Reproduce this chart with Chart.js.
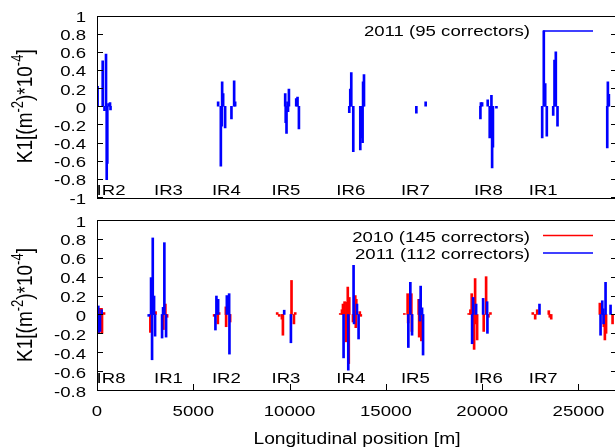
<!DOCTYPE html>
<html>
<head>
<meta charset="utf-8">
<script src="https://cdn.jsdelivr.net/npm/chart.js@4/dist/chart.umd.min.js"></script>
<style>
html, body { margin: 0; padding: 0; background: #fff; overflow: hidden; }
canvas { display: block; position: absolute; left: 0; }
#topChart { top: 0; }
#bottomChart { top: 207px; }
</style>
</head>
<body>
<canvas id="topChart" width="618" height="207"></canvas>
<canvas id="bottomChart" width="618" height="240"></canvas>
<script>
// positions in metres along the ring, K1 in units of 1e-4 m^-2

const irTop = ['IR2', 'IR3', 'IR4', 'IR5', 'IR6', 'IR7', 'IR8', 'IR1'];
const irBottom = ['IR8', 'IR1', 'IR2', 'IR3', 'IR4', 'IR5', 'IR6', 'IR7'];
const irPos = [730, 3710, 6720, 9810, 13180, 16530, 20320, 23170];

const yTicksTop = ['-1', '-0.8', '-0.6', '-0.4', '-0.2', '0', '0.2', '0.4', '0.6', '0.8', '1'];
const yTicksBottom = ['-0.8', '-0.6', '-0.4', '-0.2', '0', '0.2', '0.4', '0.6', '0.8', '1'];
const xTicks = ['0', '5000', '10000', '15000', '20000', '25000'];

// top panel: 2011 (95 correctors)
const top2011Pos = [30, 296, 390, 468, 504, 535, 598, 676, 702,
    6290, 6430, 6482, 6498, 6550, 6653, 6981, 7121, 7173,
    9772, 9798, 9840, 9892, 9918, 9965, 10344, 10412, 10484,
    13099, 13151, 13203, 13307, 13671, 13749, 13790, 13816, 13863,
    16582, 17065,
    19908, 19934, 19996, 20287, 20391, 20480, 20516, 20558, 20740,
    23116, 23199, 23272, 23355, 23688, 23755, 23823, 23911,
    26494, 26526, 26578];
const top2011K1 = [0.22, 0.50, -0.05, 0.575, -0.81, -0.63, 0.03, 0.04, -0.04,
    0.05, -0.66, -0.22, 0.27, 0.14, -0.24, -0.14, 0.28, 0.05,
    0.14, -0.18, -0.30, 0.05, -0.06, 0.19, 0.085, 0.10, -0.25,
    -0.07, 0.19, 0.37, -0.50, -0.48, -0.35, -0.40, 0.27, 0.35,
    -0.076, 0.05,
    -0.14, 0.04, 0.04, 0.07, -0.35, 0.12, -0.68, -0.45, -0.02,
    -0.35, 0.83, 0.25, -0.33, -0.10, 0.51, 0.60, -0.22,
    -0.46, 0.27, 0.13];

// bottom panel: 2010 (145 correctors)
const bot2010Pos = [104, 130, 234, 260, 364,
    2771, 2927, 3041, 3446, 3550, 3639,
    6082, 6274, 6342, 6690, 6705, 6913,
    9356, 9460, 9601, 9653, 10100, 10225, 10292,
    12631, 12720, 12772, 12855, 12928, 12954, 13021, 13073, 13099, 13291, 13411, 13437, 13463, 13645, 13697,
    15958, 16129, 16155, 16322, 16348, 16702, 16727, 16842,
    19300, 19389, 19456, 19581, 19633, 19649, 19737, 20080, 20204, 20324, 20428,
    22627, 22752, 22856, 23459, 23511, 23584,
    26109, 26318, 26370, 26432, 26770];
const bot2010K1 = [-0.20, 0.065, 0.065, -0.20, 0.02,
    -0.19, 0.13, 0.03, -0.16, 0.11, -0.03,
    -0.02, -0.10, 0.02, 0.08, -0.13, -0.08,
    0.02, -0.02, -0.05, -0.22, 0.36, -0.10, 0.02,
    0.01, 0.05, 0.11, 0.135, -0.29, 0.13, 0.29, -0.52, 0.18, -0.08, 0.20, -0.14, 0.16, 0.03, -0.02,
    0.01, 0.22, -0.09, 0.22, -0.18, 0.16, -0.24, -0.28,
    0.01, 0.05, 0.22, -0.37, 0.38, -0.10, -0.27, -0.18, 0.40, -0.03, 0.02,
    0.02, -0.05, 0.05, 0.04, -0.03, -0.05,
    0.12, -0.13, -0.27, -0.20, -0.10];

// bottom panel: 2011 (112 correctors)
const bot2011Pos = [68, 83, 156, 244,
    2687, 2807, 2859, 2895, 2963, 3015, 3379, 3431, 3498, 3587,
    6149, 6201, 6290, 6742, 6861, 6877,
    9720, 10068,
    12803, 13047, 13322, 13348, 13499, 13582,
    16166, 16270, 16358, 16753, 16769, 16805, 16878, 16930,
    19477, 19529, 19685, 20049, 20256, 20272,
    22975,
    26146, 26235, 26287, 26302, 26406, 26666];
const bot2011K1 = [0.09, -0.19, -0.18, 0.05,
    -0.02, 0.39, -0.48, 0.81, 0.195, -0.23, -0.25, 0.075, 0.76, -0.24,
    -0.165, 0.195, 0.16, 0.20, 0.22, -0.42,
    0.045, -0.30,
    -0.46, -0.59, 0.52, -0.10, 0.11, -0.26,
    -0.35, 0.34, -0.22, 0.16, -0.07, 0.30, 0.07, -0.43,
    -0.31, 0.18, 0.11, 0.17, 0.135, -0.20,
    0.11,
    -0.22, 0.145, 0.06, -0.10, 0.34, 0.10];

const FONT = '"Liberation Sans", Arial, sans-serif';
const SX = 1.2; // original figure was stretched sideways a bit

function drawText(ctx, str, x, y, size, align) {
    ctx.save();
    ctx.font = size + 'px ' + FONT;
    const w = ctx.measureText(str).width * SX;
    let x0 = x;
    if (align === 'center') x0 = x - w / 2;
    else if (align === 'right') x0 = x - w;
    ctx.translate(x0, y);
    ctx.scale(SX, 1);
    ctx.textAlign = 'left';
    ctx.textBaseline = 'alphabetic';
    ctx.fillText(str, 0, 0);
    ctx.restore();
}

// y label with superscripts, rotated
function drawYTitle(ctx, cx, cy) {
    const parts = [['K1[(m', 0], ['-2', 1], [')*10', 0], ['-4', 1], [']', 0]];
    ctx.save();
    ctx.translate(cx, cy);
    ctx.rotate(-Math.PI / 2);
    ctx.scale(1, SX);
    ctx.fillStyle = '#000';
    ctx.textBaseline = 'alphabetic';
    let total = 0;
    parts.forEach(p => {
        ctx.font = (p[1] ? 13 : 19) + 'px ' + FONT;
        total += ctx.measureText(p[0]).width;
    });
    let x = -total / 2;
    parts.forEach(p => {
        ctx.font = (p[1] ? 13 : 19) + 'px ' + FONT;
        ctx.fillText(p[0], x, p[1] ? -7 : 0);
        x += ctx.measureText(p[0]).width;
    });
    ctx.restore();
}

const framePlugin = {
    id: 'frame',
    afterDraw(chart, args, opts) {
        const ctx = chart.ctx;
        const a = chart.chartArea;
        const x = chart.scales.x, y = chart.scales.y;
        ctx.save();
        ctx.strokeStyle = '#000';
        ctx.fillStyle = '#000';
        ctx.lineWidth = 1;
        ctx.strokeRect(Math.round(a.left) + 0.5, Math.round(a.top) + 0.5,
            Math.round(a.right - a.left), Math.round(a.bottom - a.top));

        ctx.beginPath();
        opts.yTicks.forEach(t => {
            const py = Math.round(y.getPixelForValue(parseFloat(t))) + 0.5;
            ctx.moveTo(a.left, py); ctx.lineTo(a.left + 6, py);
            ctx.moveTo(a.right - 6, py); ctx.lineTo(a.right, py);
        });
        if (opts.xTicks) {
            opts.xTicks.forEach(t => {
                const px = Math.round(x.getPixelForValue(parseFloat(t))) + 0.5;
                ctx.moveTo(px, a.bottom); ctx.lineTo(px, a.bottom - 6);
            });
        }
        ctx.stroke();

        opts.yTicks.forEach(t => {
            const py = y.getPixelForValue(parseFloat(t));
            drawText(ctx, t, 86, py + 6.5, 15.5, 'right');
        });
        if (opts.xTicks) {
            opts.xTicks.forEach(t => {
                drawText(ctx, t, x.getPixelForValue(parseFloat(t)), a.bottom + 25.5, 15.5, 'center');
            });
            drawText(ctx, opts.xTitle, (a.left + a.right) / 2, a.bottom + 53.5, 16, 'center');
        }

        drawYTitle(ctx, 31.7, (a.top + a.bottom) / 2);

        opts.ir.forEach((name, i) => {
            drawText(ctx, name, x.getPixelForValue(irPos[i]), a.bottom - opts.irLift, 15.5, 'center');
        });

        opts.legend.forEach(item => {
            drawText(ctx, item.text, 530, a.top + item.base, 15.5, 'right');
            ctx.strokeStyle = item.color;
            ctx.lineWidth = 1.5;
            ctx.beginPath();
            ctx.moveTo(543, a.top + item.line);
            ctx.lineTo(593, a.top + item.line);
            ctx.stroke();
        });
        ctx.restore();
    }
};

function bars(pos, k1, color, order) {
    return {
        data: pos.map((p, i) => ({ x: p, y: k1[i] })),
        backgroundColor: color,
        borderWidth: 0,
        barThickness: 2,
        grouped: false,
        order: order
    };
}

function scales(ymin, ymax) {
    return {
        x: { type: 'linear', min: 0, max: 27000, offset: false, display: false,
             grid: { offset: false } },
        y: { min: ymin, max: ymax, ticks: { display: false },
             grid: { display: false, drawTicks: false }, border: { display: false },
             afterFit: s => { s.width = 97; } }
    };
}

new Chart(document.getElementById('topChart'), {
    type: 'bar',
    data: { datasets: [bars(top2011Pos, top2011K1, '#0000ff', 1)] },
    options: {
        responsive: false,
        animation: false,
        layout: { padding: { top: 15.5, bottom: 10, left: 0, right: 1 } },
        scales: scales(-1, 1),
        plugins: {
            legend: { display: false },
            tooltip: { enabled: false },
            frame: {
                yTicks: yTicksTop,
                ir: irTop,
                irLift: 2,
                legend: [{ text: '2011 (95 correctors)', color: '#0000ff', base: 20.8, line: 15.5 }]
            }
        }
    },
    plugins: [framePlugin]
});

new Chart(document.getElementById('bottomChart'), {
    type: 'bar',
    data: {
        datasets: [
            bars(bot2010Pos, bot2010K1, '#ff0000', 2),
            bars(bot2011Pos, bot2011K1, '#0000ff', 1)
        ]
    },
    options: {
        responsive: false,
        animation: false,
        layout: { padding: { top: 13, bottom: 57, left: 0, right: 1 } },
        scales: scales(-0.8, 1),
        plugins: {
            legend: { display: false },
            tooltip: { enabled: false },
            frame: {
                yTicks: yTicksBottom,
                xTicks: xTicks,
                xTitle: 'Longitudinal position [m]',
                ir: irBottom,
                irLift: 7,
                legend: [
                    { text: '2010 (145 correctors)', color: '#ff0000', base: 21.5, line: 15.5 },
                    { text: '2011 (112 correctors)', color: '#0000ff', base: 38.5, line: 33 }
                ]
            }
        }
    },
    plugins: [framePlugin]
});
</script>
</body>
</html>
